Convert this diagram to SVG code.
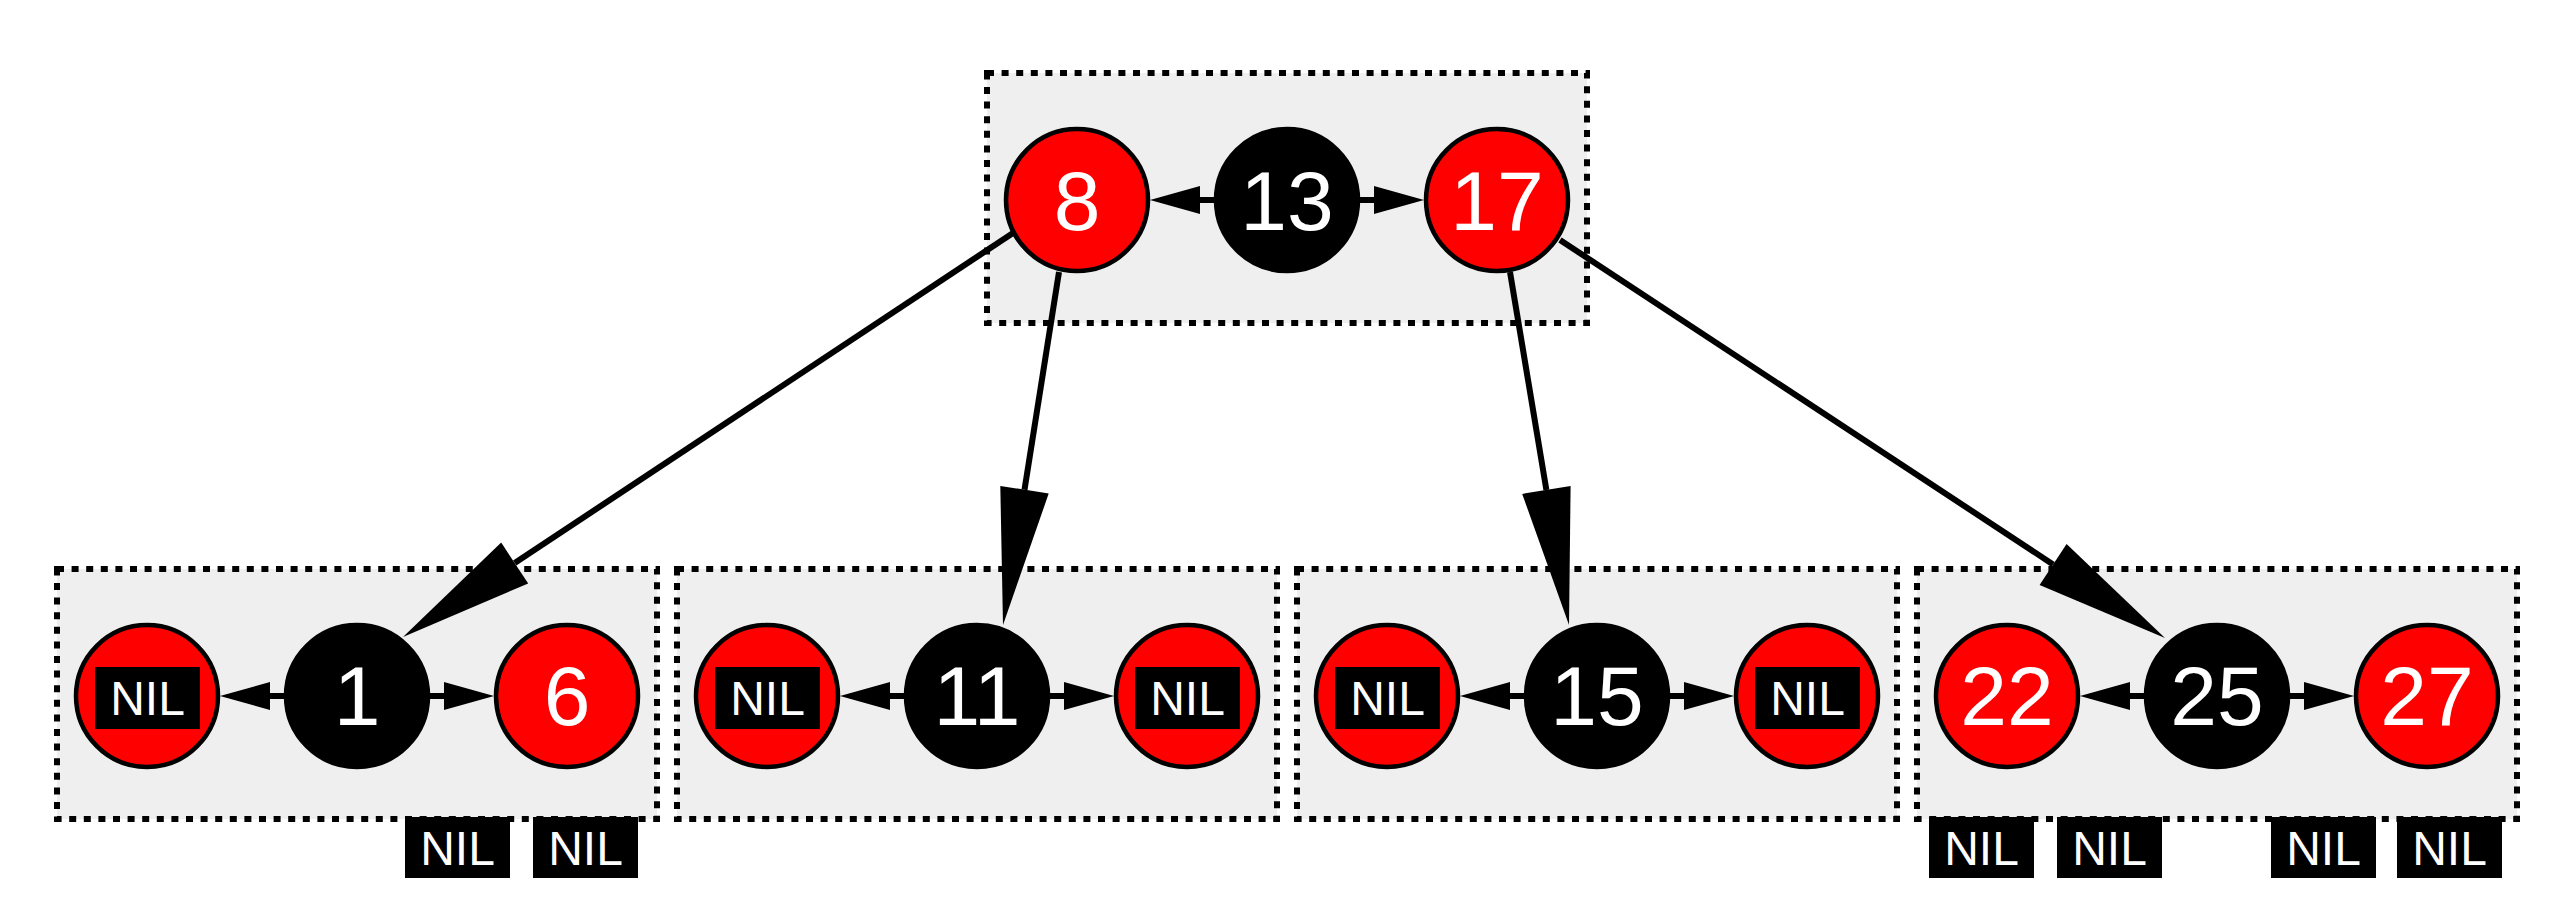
<svg xmlns="http://www.w3.org/2000/svg" width="2560" height="915" viewBox="0 0 2560 915">
<style>
.box{fill:#efefef;stroke:#000;stroke-width:6;stroke-dasharray:7 7.6}
.red{fill:#ff0000;stroke:#000;stroke-width:4.5}
.blk{fill:#000;stroke:#000;stroke-width:4.5}
.num{font-family:"Liberation Sans",Arial,sans-serif;font-size:84px;fill:#fff;text-anchor:middle}
.nil{font-family:"Liberation Sans",Arial,sans-serif;font-size:48px;fill:#fff;text-anchor:middle}
.nilbox{fill:#000}
.edge{stroke:#000;stroke-width:6;fill:none}
.head{fill:#000;stroke:none}
</style>
<rect width="2560" height="915" fill="#fff"/>
<g id="clusters">
<rect id="box-top" class="box" x="987" y="73" width="600" height="250"/>
<rect id="box-1" class="box" x="57" y="569" width="600" height="250"/>
<rect id="box-2" class="box" x="677" y="569" width="600" height="250"/>
<rect id="box-3" class="box" x="1297" y="569" width="600" height="250"/>
<rect id="box-4" class="box" x="1917" y="569" width="600" height="250"/>
</g>
<g id="connectors">
<line class="edge" x1="1013" y1="233" x2="514.7" y2="563"/>
<polygon class="head" points="403,637 528.2,583.4 501.2,542.6"/>
<line class="edge" x1="1059" y1="272" x2="1024.5" y2="489.7"/>
<polygon class="head" points="1003,625 1048.7,493.5 1000.3,485.9"/>
<line class="edge" x1="1510" y1="272" x2="1546.4" y2="489.9"/>
<polygon class="head" points="1569,625 1570.6,485.9 1522.2,493.9"/>
<line class="edge" x1="1560" y1="240" x2="2053.1" y2="564.4"/>
<polygon class="head" points="2165,638 2039.6,584.9 2066.6,543.9"/>
<line class="edge" x1="1214" y1="200" x2="1198" y2="200"/>
<polygon class="head" points="1150,200 1200,186 1200,214"/>
<line class="edge" x1="1360" y1="200" x2="1376" y2="200"/>
<polygon class="head" points="1424,200 1374,186 1374,214"/>
<line class="edge" x1="284" y1="696" x2="268" y2="696"/>
<polygon class="head" points="220,696 270,682 270,710"/>
<line class="edge" x1="430" y1="696" x2="446" y2="696"/>
<polygon class="head" points="494,696 444,682 444,710"/>
<line class="edge" x1="904" y1="696" x2="888" y2="696"/>
<polygon class="head" points="840,696 890,682 890,710"/>
<line class="edge" x1="1050" y1="696" x2="1066" y2="696"/>
<polygon class="head" points="1114,696 1064,682 1064,710"/>
<line class="edge" x1="1524" y1="696" x2="1508" y2="696"/>
<polygon class="head" points="1460,696 1510,682 1510,710"/>
<line class="edge" x1="1670" y1="696" x2="1686" y2="696"/>
<polygon class="head" points="1734,696 1684,682 1684,710"/>
<line class="edge" x1="2144" y1="696" x2="2128" y2="696"/>
<polygon class="head" points="2080,696 2130,682 2130,710"/>
<line class="edge" x1="2290" y1="696" x2="2306" y2="696"/>
<polygon class="head" points="2354,696 2304,682 2304,710"/>
</g>
<g id="n8"><circle class="red" cx="1077" cy="200" r="71"/><text class="num" x="1077" y="230">8</text></g>
<g id="n13"><circle class="blk" cx="1287" cy="200" r="71"/><text class="num" x="1287" y="230">13</text></g>
<g id="n17"><circle class="red" cx="1497" cy="200" r="71"/><text class="num" x="1497" y="230">17</text></g>
<g id="nil-a"><circle class="red" cx="147" cy="696" r="71"/><rect class="nilbox" x="95" y="667" width="105" height="62"/><text class="nil" x="147.5" y="715">NIL</text></g>
<g id="n1"><circle class="blk" cx="357" cy="696" r="71"/><text class="num" x="357" y="725">1</text></g>
<g id="n6"><circle class="red" cx="567" cy="696" r="71"/><text class="num" x="567" y="725">6</text></g>
<g id="nil-b"><circle class="red" cx="767" cy="696" r="71"/><rect class="nilbox" x="715" y="667" width="105" height="62"/><text class="nil" x="767.5" y="715">NIL</text></g>
<g id="n11"><circle class="blk" cx="977" cy="696" r="71"/><text class="num" x="977" y="725">11</text></g>
<g id="nil-c"><circle class="red" cx="1187" cy="696" r="71"/><rect class="nilbox" x="1135" y="667" width="105" height="62"/><text class="nil" x="1187.5" y="715">NIL</text></g>
<g id="nil-d"><circle class="red" cx="1387" cy="696" r="71"/><rect class="nilbox" x="1335" y="667" width="105" height="62"/><text class="nil" x="1387.5" y="715">NIL</text></g>
<g id="n15"><circle class="blk" cx="1597" cy="696" r="71"/><text class="num" x="1597" y="725">15</text></g>
<g id="nil-e"><circle class="red" cx="1807" cy="696" r="71"/><rect class="nilbox" x="1755" y="667" width="105" height="62"/><text class="nil" x="1807.5" y="715">NIL</text></g>
<g id="n22"><circle class="red" cx="2007" cy="696" r="71"/><text class="num" x="2007" y="725">22</text></g>
<g id="n25"><circle class="blk" cx="2217" cy="696" r="71"/><text class="num" x="2217" y="725">25</text></g>
<g id="n27"><circle class="red" cx="2427" cy="696" r="71"/><text class="num" x="2427" y="725">27</text></g>
<g id="nil-f"><rect class="nilbox" x="405" y="817" width="105" height="61"/><text class="nil" x="457.5" y="865">NIL</text></g>
<g id="nil-g"><rect class="nilbox" x="533" y="817" width="105" height="61"/><text class="nil" x="585.5" y="865">NIL</text></g>
<g id="nil-h"><rect class="nilbox" x="1929" y="817" width="105" height="61"/><text class="nil" x="1981.5" y="865">NIL</text></g>
<g id="nil-i"><rect class="nilbox" x="2057" y="817" width="105" height="61"/><text class="nil" x="2109.5" y="865">NIL</text></g>
<g id="nil-j"><rect class="nilbox" x="2271" y="817" width="105" height="61"/><text class="nil" x="2323.5" y="865">NIL</text></g>
<g id="nil-k"><rect class="nilbox" x="2397" y="817" width="105" height="61"/><text class="nil" x="2449.5" y="865">NIL</text></g>
</svg>
